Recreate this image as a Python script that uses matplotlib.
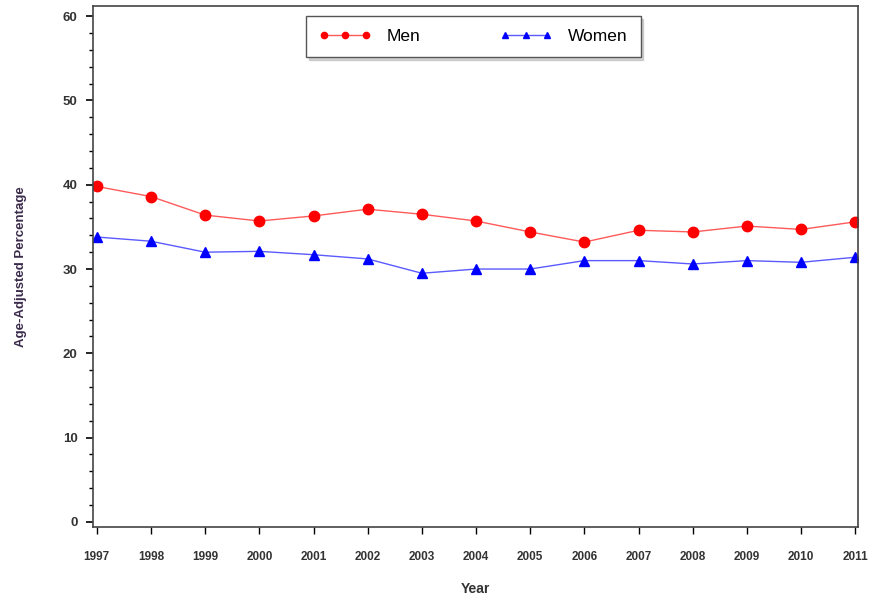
import numpy as np
import matplotlib.pyplot as plt

years = [1997, 1998, 1999, 2000, 2001, 2002, 2003, 2004, 2005, 2006, 2007, 2008, 2009, 2010, 2011]
men = [39.8, 38.6, 36.4, 35.7, 36.3, 37.1, 36.5, 35.7, 34.4, 33.2, 34.6, 34.4, 35.1, 34.7, 35.6]
women = [33.8, 33.3, 32.0, 32.1, 31.7, 31.2, 29.5, 30.0, 30.0, 31.0, 31.0, 30.6, 31.0, 30.8, 31.4]

plt.rcParams['font.family'] = ['Liberation Sans', 'DejaVu Sans']

fig = plt.figure(figsize=(8.74, 6.04), dpi=100)
ax = fig.add_axes([0.1064, 0.1275, 0.8753, 0.8625])

ax.plot(years, men, color='#ff5a5a', lw=1.0, marker='o', ms=7.5, mec='#ff0000', mfc='#ff0000',
        label='Men')
ax.plot(years, women, color='#5a5aff', lw=1.0, marker='^', ms=7.5, mec='#0000ff', mfc='#0000ff',
        label='Women')

ax.set_xlim(1996.93, 2011.05)
ax.set_ylim(-0.6, 61.2)
ax.set_xticks(years)
ax.set_xticklabels([str(y) for y in years], fontsize=8.5, fontweight='bold', color='#333333')
ax.set_yticks(np.arange(0, 61, 10))
ax.set_yticks(np.arange(0, 61, 2), minor=True)
ax.tick_params(axis='y', labelsize=9.5, labelcolor='#333333', length=5, width=1.2, pad=6)
ax.tick_params(axis='y', which='minor', length=3, width=1)
ax.tick_params(axis='x', length=5, width=1, pad=12)
for lbl in ax.get_yticklabels():
    lbl.set_fontweight('bold')

for s in ax.spines.values():
    s.set_color('#444444')
    s.set_linewidth(1.2)

ax.set_xlabel('Year', fontsize=10, fontweight='bold', color='#333333', labelpad=14)
ax.set_ylabel('Age-Adjusted Percentage', fontsize=9.5, fontweight='bold', color='#3a2a4a', labelpad=26)

leg = ax.legend(loc='upper center', bbox_to_anchor=(0.497, 0.981), borderaxespad=0, ncol=2,
                numpoints=3, fontsize=12.5, markerscale=0.6, handlelength=3.0, handletextpad=0.9,
                columnspacing=4.6, fancybox=False, shadow={'color': '#aaaaaa', 'ox': 2, 'oy': -2},
                edgecolor='#555555', borderpad=0.75)
leg.get_frame().set_linewidth(1.0)

fig.savefig('out.png', dpi=100)
